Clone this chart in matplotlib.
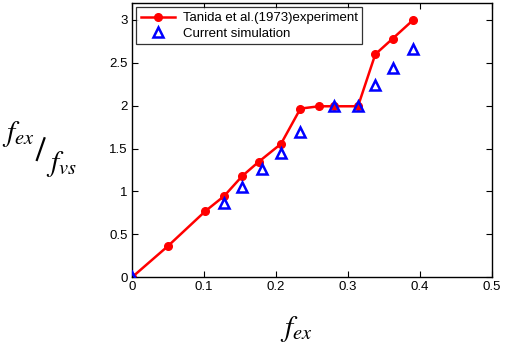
import matplotlib
matplotlib.use('Agg')
import matplotlib.pyplot as plt
from matplotlib.lines import Line2D

# experiment (red line)
exp_x = [0.0, 0.050, 0.102, 0.128, 0.153, 0.176, 0.207, 0.234, 0.260, 0.281, 0.314, 0.338, 0.362, 0.391]
exp_y = [0.0, 0.364, 0.771, 0.946, 1.178, 1.345, 1.554, 1.965, 1.992, 1.992, 1.992, 2.597, 2.779, 3.0]

# simulation (blue triangles)
sim_x = [0.0, 0.128, 0.153, 0.181, 0.207, 0.234, 0.281, 0.314, 0.338, 0.362, 0.391]
sim_y = [0.0, 0.868, 1.047, 1.260, 1.453, 1.694, 2.0, 2.0, 2.236, 2.440, 2.660]

xticks = [0, 0.1, 0.2, 0.3, 0.4, 0.5]
xticklabels = ['0', '0.1', '0.2', '0.3', '0.4', '0.5']
yticks = [0, 0.5, 1, 1.5, 2, 2.5, 3]
yticklabels = ['0', '0.5', '1', '1.5', '2', '2.5', '3']

plt.rcParams['font.family'] = ['Liberation Sans', 'DejaVu Sans']
plt.rcParams['mathtext.fontset'] = 'stix'

fig = plt.figure(figsize=(5.05, 3.44), dpi=100)
ax = fig.add_axes([0.2614, 0.194, 0.9740 - 0.2614, 0.990 - 0.194])

ax.plot(exp_x, exp_y, '-o', color='#ff0000', lw=1.8, ms=5.5,
        label='Tanida et al.(1973)experiment', zorder=2)
ax.plot(sim_x, sim_y, '^', color='#0000ff', mfc='none', mew=1.8, ms=7,
        ls='none', label='Current simulation', zorder=3)

ax.set_xlim(0, 0.5)
ax.set_ylim(0, 3.19)
ax.set_xticks(xticks)
ax.set_xticklabels(xticklabels)
ax.set_yticks(yticks)
ax.set_yticklabels(yticklabels)
ax.tick_params(direction='in', top=True, right=True, labelsize=9.5, length=4, width=0.8, pad=3)
for s in ax.spines.values():
    s.set_linewidth(1.0)

leg = ax.legend(loc='upper left', fontsize=9.5, frameon=True, fancybox=False,
                borderaxespad=0.3, handlelength=2.6, borderpad=0.35,
                labelspacing=0.25, handletextpad=0.6)
leg.get_frame().set_edgecolor('black')
leg.get_frame().set_linewidth(0.9)

# axis labels as in the original (f_ex / f_vs written as a slanted fraction)
fig.text(0.587, 0.045, r'$f_{ex}$', fontsize=21, ha='center', va='center')
fig.text(0.004, 0.610, r'$f_{ex}$', fontsize=21, ha='left', va='center')
fig.text(0.092, 0.522, r'$f_{vs}$', fontsize=21, ha='left', va='center')
fig.add_artist(Line2D([0.073, 0.088], [0.535, 0.598], transform=fig.transFigure,
                      color='black', lw=1.6))

fig.savefig('out.png', dpi=100)
